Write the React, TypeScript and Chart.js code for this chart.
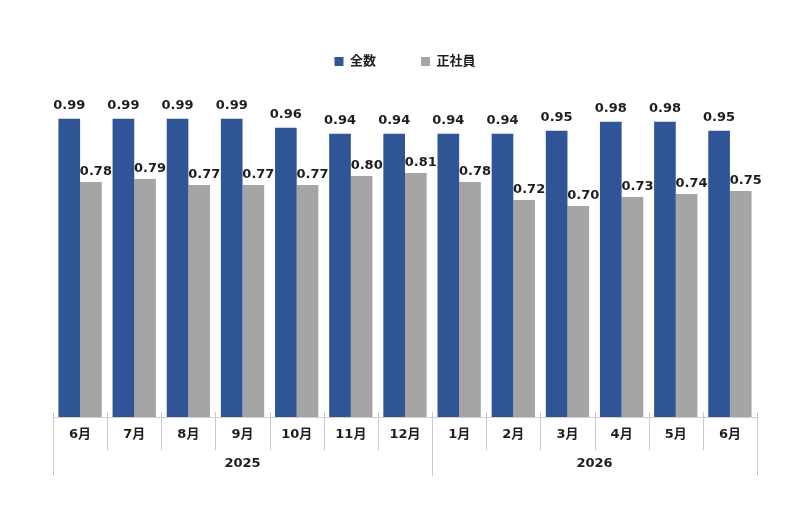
import React, { useEffect, useRef } from 'react';
import { Chart, registerables } from 'chart.js';

Chart.register(...registerables);

// chart data
const months = ['6月', '7月', '8月', '9月', '10月', '11月', '12月', '1月', '2月', '3月', '4月', '5月', '6月'];
const totalValues = [0.99, 0.99, 0.99, 0.99, 0.96, 0.94, 0.94, 0.94, 0.94, 0.95, 0.98, 0.98, 0.95];
const regularValues = [0.78, 0.79, 0.77, 0.77, 0.77, 0.80, 0.81, 0.78, 0.72, 0.70, 0.73, 0.74, 0.75];
const years = ['2025', '2026'];
const yearStarts = [0, 7, 13]; // index where each year group begins (last = end)

const FONT = '"DejaVu Sans", "Noto Sans CJK JP", sans-serif';
const TEXT = '#1e1e1e';

// value labels above each bar (drawn under the bars, so a neighbour bar can cover them)
const valueLabels = {
    id: 'valueLabels',
    beforeDatasetsDraw(chart: any) {
        const ctx = chart.ctx;
        ctx.save();
        ctx.font = `bold 13px ${FONT}`;
        ctx.fillStyle = TEXT;
        ctx.textAlign = 'center';
        ctx.textBaseline = 'alphabetic';
        chart.data.datasets.forEach((ds: any, di: number) => {
            const meta = chart.getDatasetMeta(di);
            meta.data.forEach((bar: any, i: number) => {
                const v = ds.data[i] as number;
                const dx = di === 0 ? 0 : 5;
                const dy = di === 0 ? 10 : 7;
                ctx.fillText(v.toFixed(2), bar.x + dx, bar.y - dy);
            });
        });
        ctx.restore();
    },
};

// category separators and year row under the month labels
const groupAxis = {
    id: 'groupAxis',
    afterDraw(chart: any) {
        const ctx = chart.ctx;
        const x = chart.scales.x;
        const base = x.top;
        ctx.save();
        ctx.strokeStyle = '#c8c8c8';
        ctx.lineWidth = 1;
        for (let i = 0; i <= months.length; i++) {
            const px = Math.round(x.getPixelForValue(i - 0.5)) + 0.5;
            const isYear = yearStarts.includes(i);
            ctx.beginPath();
            ctx.moveTo(px, base - 5);
            ctx.lineTo(px, isYear ? base + 59 : base + 33);
            ctx.stroke();
        }
        ctx.font = `bold 13px ${FONT}`;
        ctx.fillStyle = TEXT;
        ctx.textAlign = 'center';
        ctx.textBaseline = 'middle';
        years.forEach((y, k) => {
            const a = x.getPixelForValue(yearStarts[k] - 0.5);
            const b = x.getPixelForValue(yearStarts[k + 1] - 0.5);
            ctx.fillText(y, (a + b) / 2, base + 47);
        });
        ctx.restore();
    },
};

const App: React.FC = () => {
    const canvasRef = useRef<HTMLCanvasElement | null>(null);

    useEffect(() => {
        if (!canvasRef.current) return;
        const chart = new Chart(canvasRef.current, {
            type: 'bar',
            data: {
                labels: months,
                datasets: [
                    {
                        label: '全数',
                        data: totalValues,
                        backgroundColor: '#2f5597',
                        borderWidth: 0,
                        categoryPercentage: 0.8,
                        barPercentage: 1.0,
                    },
                    {
                        label: '正社員',
                        data: regularValues,
                        backgroundColor: '#a5a5a5',
                        borderWidth: 0,
                        categoryPercentage: 0.8,
                        barPercentage: 1.0,
                    },
                ],
            },
            options: {
                responsive: true,
                maintainAspectRatio: false,
                animation: false,
                layout: { padding: { top: 10, left: 53, right: 43, bottom: 31 } },
                plugins: {
                    legend: {
                        position: 'top',
                        labels: {
                            boxWidth: 9,
                            boxHeight: 9,
                            padding: 45,
                            color: TEXT,
                            font: { family: FONT, size: 13, weight: 'bold' },
                        },
                    },
                    tooltip: { enabled: false },
                },
                scales: {
                    x: {
                        grid: { display: false, drawTicks: false },
                        border: { display: true, color: '#d0d0d0', width: 1 },
                        ticks: {
                            color: TEXT,
                            padding: 10,
                            font: { family: FONT, size: 13, weight: 'bold' },
                            maxRotation: 0,
                            autoSkip: false,
                        },
                        afterFit: (scale: any) => {
                            scale.height = 60;
                        },
                    },
                    y: {
                        display: false,
                        min: 0,
                        max: 1.125,
                    },
                },
            },
            plugins: [valueLabels, groupAxis],
        });
        return () => chart.destroy();
    }, []);

    return (
        <div style={{ position: 'fixed', left: 0, top: 0, width: 800, height: 508, background: '#fff' }}>
            <canvas ref={canvasRef}></canvas>
        </div>
    );
};

export default App;
